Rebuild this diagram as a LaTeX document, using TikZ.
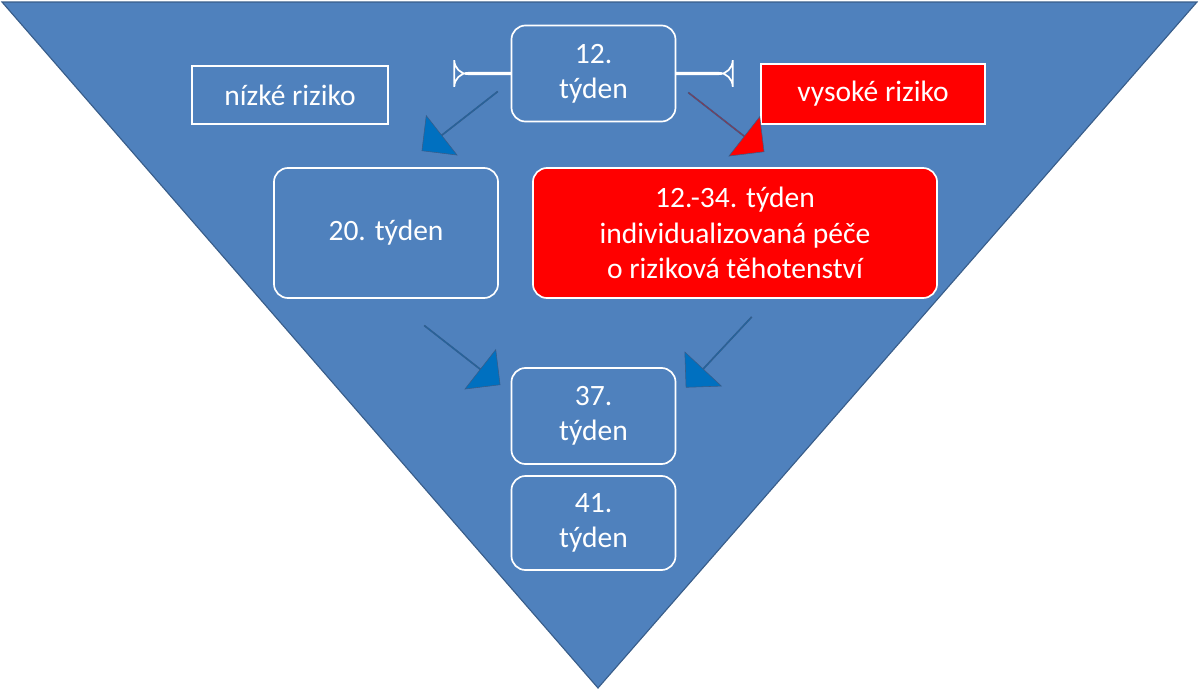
\documentclass[tikz,border=0pt]{standalone}
\usepackage{fontspec}
\setmainfont{Carlito}
\usetikzlibrary{shapes.arrows}
\definecolor{tri}{RGB}{79,129,189}
\definecolor{triline}{RGB}{56,93,138}
\definecolor{arblue}{RGB}{0,112,192}
\begin{document}
\begin{tikzpicture}[x=0.025cm,y=-0.025cm,
   font=\fontsize{21}{25}\selectfont,
   box/.style={draw=white,very thick,rounded corners=10pt,fill=tri,text=white,align=center,inner sep=0pt},
   tag/.style={draw=white,thick,text=white,inner sep=0pt},
   blk/.style={single arrow,fill=arblue,draw=triline,single arrow head extend=0.3cm,minimum width=1.25cm,minimum height=2.4cm,inner sep=0pt}]
\useasboundingbox (0,0) rectangle (1199,691);
\draw[fill=tri,draw=triline,thick] (2,2) -- (1197,2) -- (598,688) -- cycle;
\node[box,minimum width=165\pgflinewidth] (w12) at (593.5,73.5) {};
\node[box,minimum width=4.1cm,minimum height=2.4cm] (w12) at (593.5,73.5) {12.\\týden};
\node[box,minimum width=5.6cm,minimum height=3.25cm] (w20) at (386,233) {20. týden};
\node[box,fill=red,minimum width=10.1cm,minimum height=3.25cm] (w34) at (735,233) {12.-34. týden\\individualizovaná péče\\o riziková těhotenství};
\node[box,minimum width=4.1cm,minimum height=2.4cm] (w37) at (593.5,416) {37.\\týden};
\node[box,minimum width=4.1cm,minimum height=2.35cm] (w41) at (593.5,523) {41.\\týden};
\node[tag,fill=tri,minimum width=4.9cm,minimum height=1.45cm] (low) at (290,95) {nízké riziko};
\node[tag,fill=red,minimum width=5.6cm,minimum height=1.5cm] (high) at (873,94) {vysoké riziko};
\node[blk,rotate=-142] (a1) at (460,121) {};
\node[blk,fill=red,rotate=-38] (a2) at (726,122) {};
\node[blk,rotate=-38] (a3) at (462,355) {};
\node[blk,rotate=-133] (a4) at (719,352) {};
\end{tikzpicture}
\end{document}
